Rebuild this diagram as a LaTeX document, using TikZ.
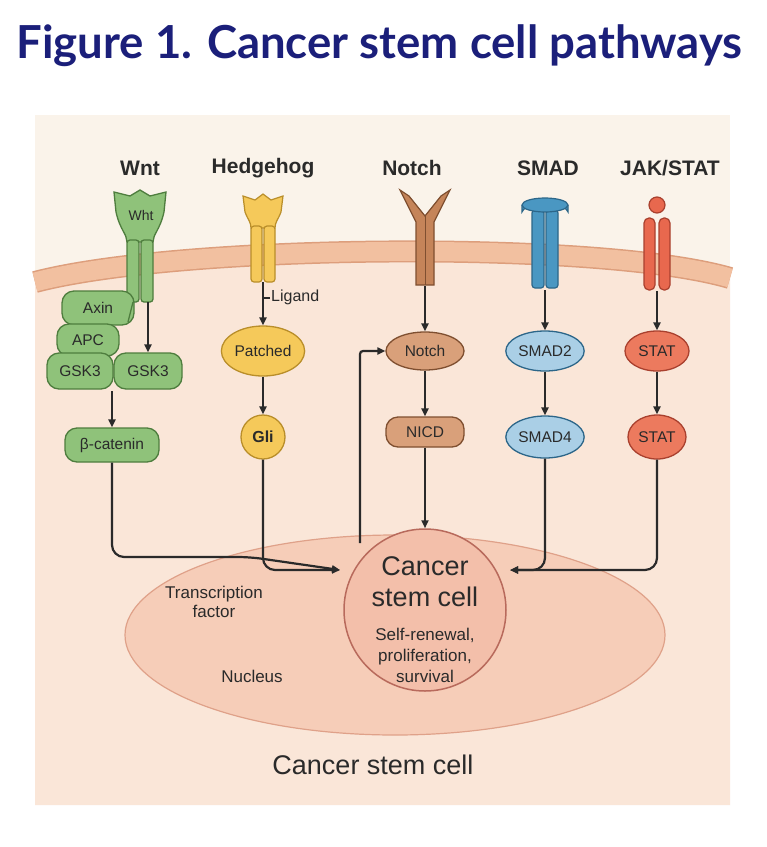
\documentclass[tikz,border=0pt]{standalone}
\usepackage{fontspec}
\setmainfont{Liberation Sans}
\newfontfamily\titlefont{Lato}
\usetikzlibrary{arrows.meta,shapes.geometric}
\definecolor{ttl}{HTML}{1B1F7A}
\definecolor{panel}{HTML}{FAF3EA}
\definecolor{cyto}{HTML}{FAE6D8}
\definecolor{memb}{HTML}{F2C0A0}
\definecolor{membd}{HTML}{DD9E7C}
\definecolor{nucf}{HTML}{F6CDB8}
\definecolor{nucd}{HTML}{DFA189}
\definecolor{cscf}{HTML}{F3BFAA}
\definecolor{cscd}{HTML}{B86A5C}
\definecolor{gf}{HTML}{8FC27A}\definecolor{gd}{HTML}{4E7D3E}
\definecolor{yf}{HTML}{F5C95A}\definecolor{yd}{HTML}{B98E2A}
\definecolor{bf}{HTML}{C58459}\definecolor{bd}{HTML}{7F4F30}\definecolor{bn}{HTML}{D9A07A}
\definecolor{lf}{HTML}{4A97C2}\definecolor{ld}{HTML}{2C6689}\definecolor{ln}{HTML}{AACFE6}
\definecolor{rf}{HTML}{E8684E}\definecolor{rd}{HTML}{A9402E}\definecolor{rn}{HTML}{EC7A5E}
\definecolor{txt}{HTML}{2A2A2A}
\begin{document}
\begin{tikzpicture}[x=1pt,y=-1pt,
  box/.style={rounded corners=12pt,draw=#1,line width=1.3pt,minimum height=30pt,inner sep=2pt,font=\fontsize{15.5}{17}\selectfont,text=txt},
  ov/.style={ellipse,draw=#1,line width=1.3pt,inner sep=1pt,font=\fontsize{15.5}{17}\selectfont,text=txt},
  tip/.style={-{Triangle[length=8pt,width=7pt]}},
  arr/.style={tip,line width=2.2pt,draw=txt},
  ln/.style={line width=2.2pt,draw=txt,rounded corners=12pt},
  hd/.style={font=\bfseries\fontsize{21}{24}\selectfont,text=txt},
  lab/.style={font=\fontsize{17}{19}\selectfont,text=txt,align=center}]
\useasboundingbox (0,0) rectangle (767,847);
\fill[white] (0,0) rectangle (767,847);
\node[anchor=west,text=ttl,font=\titlefont\bfseries\fontsize{45.5}{50}\selectfont] (title) at (13,46) {Figure 1. Cancer stem cell pathways};
% panel
\fill[panel] (35,115) rectangle (730,805);
\fill[cyto] (35,282) .. controls (180,244) and (600,240) .. (730,278) -- (730,805) -- (35,805) -- cycle;
\draw[membd,line width=22pt] (35,282) .. controls (180,244) and (600,240) .. (730,278);
\draw[memb,line width=19pt] (35,282) .. controls (180,244) and (600,240) .. (730,278);
% nucleus
\node[ellipse,draw=nucd,fill=nucf,line width=1.2pt,minimum width=540pt,minimum height=200pt] (nuc) at (395,635) {};
\node[circle,draw=cscd,fill=cscf,line width=1.5pt,minimum size=162pt] (csc) at (425,610) {};
\node[align=center,text=txt,font=\fontsize{27}{31}\selectfont] (csct) at (425,582) {Cancer\\stem cell};
\node[align=center,text=txt,font=\fontsize{17}{21}\selectfont] (cscs) at (425,655) {Self-renewal,\\proliferation,\\survival};
\node[lab] (tf) at (214,602) {Transcription\\factor};
\node[lab] (nl) at (252,676) {Nucleus};
\node[font=\fontsize{27}{30}\selectfont,text=txt] (cscb) at (373,765) {Cancer stem cell};
% headings
\node[hd] (h1) at (140,168) {Wnt};
\node[hd] (h2) at (263,168) {Hedgehog};
\node[hd] (h3) at (412,168) {Notch};
\node[hd] (h4) at (548,168) {SMAD};
\node[hd] (h5) at (670,168) {JAK/STAT};
% Wnt receptor
\draw[gd,fill=gf,line width=1.3pt] (114,192) -- (130,196) -- (140,190) -- (150,196) -- (166,192) -- (164,212) .. controls (160,230) and (153,234) .. (153,242) -- (127,242) .. controls (127,234) and (120,230) .. (116,212) -- cycle;
\node[text=txt,font=\fontsize{14}{16}\selectfont] (wl) at (141,215) {Wht};
\draw[gd,fill=gf,line width=1.3pt,rounded corners=3pt] (127,240) rectangle (139,302);
\draw[gd,fill=gf,line width=1.3pt,rounded corners=3pt] (141,240) rectangle (153,302);
% Hedgehog receptor
\draw[yd,fill=yf,line width=1.2pt] (243,196) -- (255,200) -- (263,194) -- (271,200) -- (283,196) -- (281,212) .. controls (278,220) and (275,222) .. (275,228) -- (251,228) .. controls (251,222) and (248,220) .. (245,212) -- cycle;
\draw[yd,fill=yf,line width=1.2pt,rounded corners=3pt] (251,226) rectangle (262,282);
\draw[yd,fill=yf,line width=1.2pt,rounded corners=3pt] (264,226) rectangle (275,282);
% Notch receptor
\draw[bd,fill=bf,line width=1.2pt] (400,190) -- (416,222) -- (416,285) -- (434,285) -- (434,222) -- (450,190) -- (441,196) -- (425,216) -- (409,196) -- cycle;
\draw[bd,line width=0.8pt] (425,216) -- (425,285);
% SMAD receptor
\draw[ld,fill=lf,line width=1.2pt,rounded corners=3pt] (532,210) rectangle (544,288);
\draw[ld,fill=lf,line width=1.2pt,rounded corners=3pt] (546,210) rectangle (558,288);
\draw[ld,fill=lf,line width=1.2pt] (522,205) -- (522,212) arc[start angle=180,end angle=360,x radius=23,y radius=7] -- (568,205);
\draw[ld,fill=lf,line width=1.2pt] (545,205) ellipse[x radius=23,y radius=7];
% JAK receptor
\draw[rd,fill=rf,line width=1.2pt] (657,205) circle[radius=8];
\draw[rd,fill=rf,line width=1.2pt,rounded corners=5pt] (644,218) rectangle (655,290);
\draw[rd,fill=rf,line width=1.2pt,rounded corners=5pt] (659,218) rectangle (670,290);
% Wnt nodes
\node[box=gd,fill=gf,minimum width=72pt,minimum height=34pt] (axin) at (98,308) {Axin};
\node[box=gd,fill=gf,minimum width=62pt,minimum height=32pt] (apc) at (88,340) {APC};
\node[box=gd,fill=gf,minimum width=66pt,minimum height=36pt] (gsk1) at (80,371) {GSK3};
\node[box=gd,fill=gf,minimum width=68pt,minimum height=36pt] (gsk2) at (148,371) {GSK3};
\node[box=gd,fill=gf,minimum width=94pt,minimum height=34pt] (bcat) at (112,445) {β-catenin};
\coordinate (ws) at (148,302);
\draw[gd,line width=1.3pt] (133,302) -- (128,322);
\draw[arr] (ws) -- (gsk2.north);
\coordinate (w1) at (112,391);
\draw[arr] (w1) -- (bcat.north);
\coordinate (cl) at (340,570);
\draw[ln,tip] (bcat.south) -- (112,557) -- (250,557) -- (cl);
% Hedgehog nodes
\node[ov=yd,fill=yf,minimum width=66pt,minimum height=50pt] (pat) at (263,351) {Patched};
\node[circle,draw=yd,fill=yf,line width=1.3pt,minimum size=44pt,inner sep=0pt,font=\bfseries\fontsize{16}{18}\selectfont,text=txt] (gli) at (263,437) {Gli};
\coordinate (hs) at (263,282);
\draw[arr] (hs) -- (pat.north);
\coordinate (t2) at (270,298);
\draw[line width=2pt,txt] (263,298) -- (t2) (263,291) -- (263,305);
\node[anchor=west,font=\fontsize{16}{18}\selectfont,text=txt,inner sep=1pt] (lig) at (270,297) {Ligand};
\draw[arr] (pat.south) -- (gli.north);
\draw[ln,tip] (gli.south) -- (263,570) -- (cl);
% Notch nodes
\node[ov=bd,fill=bn,minimum width=78pt,minimum height=38pt] (not) at (425,351) {Notch};
\node[box=bd,fill=bn,minimum width=78pt,minimum height=30pt] (nicd) at (425,432) {NICD};
\coordinate (ns) at (425,286);
\draw[arr] (ns) -- (not.north);
\draw[arr] (not.south) -- (nicd.north);
\draw[arr] (nicd.south) -- (csc.north);
\coordinate (fb) at (360,543);
\draw[ln,tip,rounded corners=3pt] (fb) -- (360,351) -- (not.west);
% SMAD nodes
\node[ov=ld,fill=ln,minimum width=76pt,minimum height=40pt] (s2) at (545,351) {SMAD2};
\node[ov=ld,fill=ln,minimum width=76pt,minimum height=42pt] (s4) at (545,437) {SMAD4};
\coordinate (ss) at (545,290);
\draw[arr] (ss) -- (s2.north);
\draw[arr] (s2.south) -- (s4.north);
\coordinate (cr) at (510,570);
\draw[ln,tip] (s4.south) -- (545,570) -- (cr);
% STAT nodes
\node[ov=rd,fill=rn,minimum width=64pt,minimum height=40pt] (st1) at (657,351) {STAT};
\node[ov=rd,fill=rn,minimum width=58pt,minimum height=44pt] (st2) at (657,437) {STAT};
\coordinate (js) at (657,291);
\draw[arr] (js) -- (st1.north);
\draw[arr] (st1.south) -- (st2.north);
\draw[ln,tip] (st2.south) -- (657,570) -- (cr);
\end{tikzpicture}
\end{document}
